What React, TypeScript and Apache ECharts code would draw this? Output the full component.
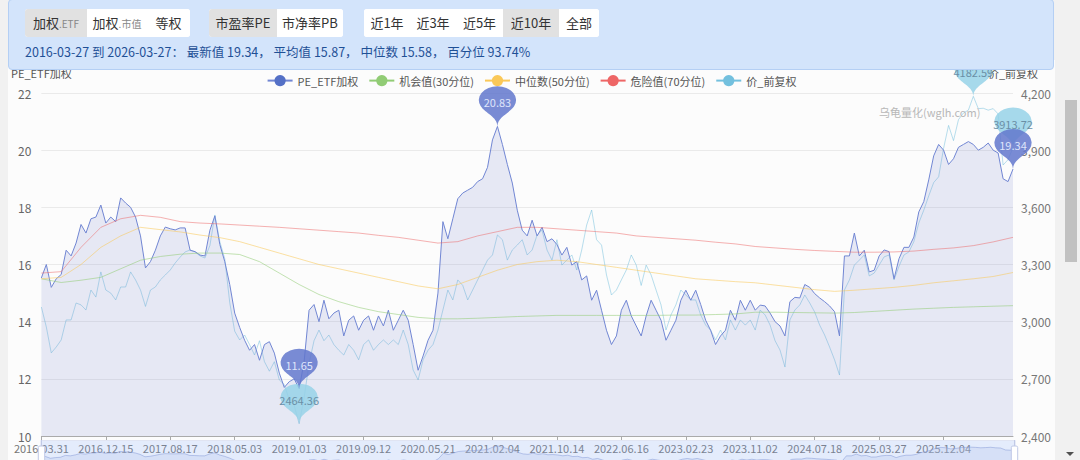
import React, { useEffect, useRef } from "react";
import * as echarts from "echarts";

// ---------- data ----------
const tickLabels = [
  "2016.03.31", "2016.12.15", "2017.08.17", "2018.05.03", "2019.01.03",
  "2019.09.12", "2020.05.21", "2021.02.04", "2021.10.14", "2022.06.16",
  "2023.02.23", "2023.11.02", "2024.07.18", "2025.03.27", "2025.12.04",
];
const LABEL_STEP = 13;

const peValues = [
  15.53, 16.0, 15.2, 15.5, 15.65, 16.5, 16.3, 16.75, 17.4, 17.1,
  17.6, 17.66, 18.08, 17.45, 17.66, 17.5, 18.33, 18.15, 18.0, 17.66,
  17.0, 15.88, 16.1, 16.5, 17.0, 17.31, 17.25, 17.21, 17.28, 17.28,
  16.5, 16.45, 16.33, 16.3, 17.2, 17.7, 16.7, 16.1, 15.3, 14.3,
  13.8, 13.35, 13.0, 13.2, 12.65, 13.2, 13.3, 12.9, 12.2, 11.7,
  11.9, 12.0, 11.65, 12.6, 14.4, 14.6, 14.0, 14.75, 14.1, 14.3,
  14.4, 13.5, 14.05, 14.2, 13.7, 14.05, 14.2, 13.7, 14.2, 13.85,
  14.4, 13.7, 14.05, 14.4, 14.05, 13.2, 12.3, 12.8, 13.35, 13.7,
  15.0, 17.5, 16.9, 17.6, 18.3, 18.5, 18.6, 18.7, 18.9, 19.0,
  19.4, 20.36, 20.83, 20.2, 19.5, 18.85, 17.9, 17.2, 17.0, 17.55,
  17.0, 17.3, 16.8, 16.9, 16.7, 16.33, 16.6, 15.98, 16.1, 15.46,
  15.6, 14.75, 15.1, 14.4, 13.7, 13.2, 13.5, 14.4, 14.75, 14.2,
  13.85, 13.5, 14.2, 14.75, 14.4, 14.05, 13.35, 13.7, 14.05, 14.75,
  15.1, 14.75, 15.1, 14.6, 14.05, 13.7, 13.2, 13.5, 13.7, 14.4,
  14.05, 14.75, 14.4, 14.75, 14.4, 14.58, 14.55, 14.3, 14.0, 13.85,
  13.5, 14.7, 14.85, 14.83, 15.3, 15.2, 14.98, 14.83, 14.7, 14.55,
  14.35, 13.5, 16.3, 16.3, 17.1, 16.3, 16.5, 15.74, 15.8, 16.3,
  16.51, 16.45, 15.5, 16.2, 16.6, 16.6, 16.96, 17.84, 18.2, 18.96,
  19.8, 20.2, 20.0, 19.5, 19.7, 20.1, 20.2, 20.3, 20.2, 20.0,
  20.1, 20.25, 20.0, 19.9, 19.0, 18.9, 19.34,
];

const priceValues = [
  3077, 2972, 2836, 2867, 2904, 3009, 3009, 3098, 3088, 3061,
  3166, 3129, 3261, 3166, 3150, 3114, 3182, 3182, 3261, 3219,
  3166, 3080, 3166, 3182, 3219, 3245, 3271, 3308, 3339, 3366,
  3376, 3366, 3345, 3334, 3400, 3560, 3420, 3330, 3100, 2950,
  2904, 2930, 2880, 2825, 2900, 2790, 2740, 2790, 2694, 2670,
  2590, 2560, 2464.36, 2600, 2780, 2900, 2956, 2900, 2930, 2880,
  2850, 2825, 2880, 2850, 2800, 2880, 2904, 2850, 2880, 2904,
  2880, 2904, 2880, 2956, 2880, 2746, 2694, 2800, 2850, 2880,
  2956, 3061, 3166, 3114, 3219, 3190, 3114, 3166, 3219, 3271,
  3323, 3350, 3455, 3430, 3323, 3376, 3402, 3430, 3350, 3376,
  3455, 3480, 3376, 3323, 3430, 3297, 3323, 3350, 3271, 3376,
  3507, 3586, 3430, 3402, 3245, 3140, 3166, 3219, 3271, 3350,
  3297, 3190, 3297, 3245, 3166, 3088, 2956, 3035, 3088, 3166,
  3140, 3114, 3114, 3035, 2982, 2956, 2904, 2956, 2904, 3009,
  2956, 3009, 2982, 3009, 2956, 3061, 3035, 2982, 2900, 2851,
  2762, 3009, 3061, 3088, 3140, 3098, 3050, 2982, 2930, 2867,
  2800, 2720, 3166, 3219, 3297, 3323, 3350, 3240, 3255, 3297,
  3340, 3350, 3219, 3290, 3350, 3366, 3420, 3518, 3585, 3660,
  3730, 3760, 3910, 4030, 3950, 4060, 4095, 4110, 4182.59, 4118,
  4120, 4110, 4118, 4090, 3822, 3850, 3913.72,
];

// rolling percentile lines, one value every PCT_STEP points
const PCT_STEP = 4;
const pct30 = [
  15.5, 15.37, 15.45, 15.55, 15.85, 16.15, 16.28, 16.36, 16.4, 16.4,
  16.35, 16.1, 15.7, 15.3, 14.95, 14.7, 14.5, 14.35, 14.25, 14.15,
  14.1, 14.1, 14.12, 14.15, 14.18, 14.2, 14.22, 14.22, 14.22, 14.22,
  14.22, 14.22, 14.23, 14.23, 14.25, 14.27, 14.33, 14.33, 14.32, 14.31,
  14.3, 14.32, 14.36, 14.4, 14.44, 14.47, 14.5, 14.52, 14.54, 14.56,
];
const pct50 = [
  15.5, 15.55, 16.0, 16.6, 17.0, 17.3, 17.22, 17.14, 17.03, 16.94,
  16.8, 16.6, 16.4, 16.2, 16.0, 15.85, 15.7, 15.55, 15.4, 15.25,
  15.15, 15.3, 15.55, 15.8, 16.0, 16.1, 16.15, 16.1, 16.0, 15.9,
  15.8, 15.7, 15.6, 15.5, 15.45, 15.4, 15.36, 15.28, 15.2, 15.12,
  15.06, 15.1, 15.15, 15.2, 15.27, 15.36, 15.43, 15.5, 15.58, 15.72,
];
const pct70 = [
  15.7, 15.75, 16.6, 17.3, 17.6, 17.72, 17.65, 17.5, 17.45, 17.42,
  17.38, 17.34, 17.3, 17.25, 17.2, 17.15, 17.1, 17.02, 16.95, 16.85,
  16.75, 16.8, 17.0, 17.15, 17.3, 17.3, 17.25, 17.2, 17.15, 17.1,
  17.0, 16.95, 16.9, 16.85, 16.78, 16.72, 16.63, 16.58, 16.53, 16.49,
  16.46, 16.43, 16.43, 16.44, 16.47, 16.53, 16.58, 16.66, 16.79, 16.95,
];

const seriesNames = ["PE_ETF加权", "机会值(30分位)", "中位数(50分位)", "危险值(70分位)", "价_前复权"];
const peLatest = 19.34;
const priceLatest = 3913.72;

const summaryText = "2016-03-27 到 2026-03-27： 最新值 19.34， 平均值 15.87， 中位数 15.58， 百分位 93.74%";

// ---------- helpers ----------
const categories = peValues.map((_, i) =>
  i % LABEL_STEP === 0 && tickLabels[i / LABEL_STEP] ? tickLabels[i / LABEL_STEP] : "d" + i
);
const spread = (arr: number[]) =>
  peValues.map((_, i) => (i % PCT_STEP === 0 ? arr[i / PCT_STEP] : null));
const showTick = (i: number) => i % LABEL_STEP === 0 && i / LABEL_STEP < tickLabels.length;

const FONT = "'Noto Sans CJK SC', 'Microsoft YaHei', sans-serif";
const PIN_SIZE = [62, 46];

function Btn({ label, sub, w, active }: { label: string; sub?: string; w: number; active?: boolean }) {
  return (
    <div
      style={{
        width: w,
        height: 28,
        lineHeight: "28px",
        textAlign: "center",
        background: active ? "#e1e1e1" : "#ffffff",
        color: "#333",
        fontSize: 13,
        whiteSpace: "nowrap",
      }}
    >
      {label}
      {sub ? <span style={{ fontSize: 10, color: "#888" }}>{sub}</span> : null}
    </div>
  );
}

function Group({ left, children }: { left: number; children: React.ReactNode }) {
  return (
    <div
      style={{
        position: "absolute",
        left,
        top: 9,
        display: "flex",
        borderRadius: 3,
        overflow: "hidden",
        background: "#fff",
      }}
    >
      {children}
    </div>
  );
}

export default function App() {
  const ref = useRef<HTMLDivElement>(null);

  useEffect(() => {
    if (!ref.current) return;
    const chart = echarts.init(ref.current, undefined, { renderer: "svg" });
    const lastCat = categories[categories.length - 1];
    const option: any = {
      animation: false,
      backgroundColor: "transparent",
      textStyle: { fontFamily: FONT },
      legend: {
        top: 10,
        left: "center",
        data: seriesNames,
        itemWidth: 25,
        itemHeight: 14,
        itemGap: 10,
        textStyle: { fontSize: 11, color: "#555" },
        lineStyle: { opacity: 1 },
      },
      grid: { left: 30, right: 42, top: 33, bottom: 44, containLabel: false },
      xAxis: {
        type: "category",
        data: categories,
        boundaryGap: false,
        axisLine: { lineStyle: { color: "#aaa" } },
        axisTick: { interval: showTick, lineStyle: { color: "#aaa" } },
        axisLabel: {
          interval: showTick,
          color: "#777",
          fontSize: 11,
          margin: 6,
          fontFamily: FONT,
        },
      },
      yAxis: [
        {
          type: "value",
          name: "PE_ETF加权",
          min: 10,
          max: 22,
          interval: 2,
          nameTextStyle: { color: "#555", fontSize: 11, fontFamily: FONT },
          axisLabel: { color: "#666", fontSize: 12, margin: 10 },
          splitLine: { lineStyle: { color: "#eaeaea" } },
        },
        {
          type: "value",
          name: "价_前复权",
          min: 2400,
          max: 4200,
          interval: 300,
          nameTextStyle: { color: "#555", fontSize: 11, fontFamily: FONT },
          axisLabel: { color: "#777", fontSize: 12, margin: 8 },
          splitLine: { show: false },
        },
      ],
      dataZoom: [
        {
          type: "slider",
          xAxisIndex: 0,
          start: 0,
          end: 100,
          left: 30,
          right: 42,
          top: 380,
          height: 32,
          showDetail: false,
          brushSelect: false,
        },
      ],
      graphic: [
        {
          type: "text",
          left: 871,
          top: 46,
          z: 100,
          style: { text: "乌龟量化(wglh.com)", fill: "#b8b8b8", fontSize: 11, fontFamily: FONT },
        },
      ],
      series: [
        {
          name: seriesNames[0],
          type: "line",
          data: peValues,
          symbol: "circle",
          showSymbol: false,
          z: 3,
          itemStyle: { color: "#5470c6" },
          lineStyle: { width: 1, color: "#7186d3" },
          areaStyle: { color: "rgba(110,125,200,0.22)" },
          markPoint: {
            symbol: "pin",
            symbolSize: PIN_SIZE,
            z: 8,
            itemStyle: { color: "rgba(98,119,205,0.85)" },
            label: { color: "#dfe5fb", fontSize: 11, fontFamily: FONT },
            data: [
              { type: "max", name: "max" },
              { type: "min", name: "min" },
              { name: "latest", coord: [lastCat, peLatest], value: peLatest },
            ],
          },
        },
        {
          name: seriesNames[1],
          type: "line",
          data: spread(pct30),
          connectNulls: true,
          symbol: "circle",
          showSymbol: false,
          itemStyle: { color: "#91cc75" },
          lineStyle: { width: 1, opacity: 0.55 },
        },
        {
          name: seriesNames[2],
          type: "line",
          data: spread(pct50),
          connectNulls: true,
          symbol: "circle",
          showSymbol: false,
          itemStyle: { color: "#fac858" },
          lineStyle: { width: 1, opacity: 0.55 },
        },
        {
          name: seriesNames[3],
          type: "line",
          data: spread(pct70),
          connectNulls: true,
          symbol: "circle",
          showSymbol: false,
          itemStyle: { color: "#ee6666" },
          lineStyle: { width: 1, opacity: 0.5 },
        },
        {
          name: seriesNames[4],
          type: "line",
          yAxisIndex: 1,
          data: priceValues,
          symbol: "circle",
          showSymbol: false,
          z: 2,
          itemStyle: { color: "#73c0de" },
          lineStyle: { width: 1, opacity: 0.5 },
          markPoint: {
            symbol: "pin",
            symbolSize: PIN_SIZE,
            z: 6,
            itemStyle: { color: "rgba(150,210,232,0.85)" },
            label: { color: "#6a8fa6", fontSize: 11, fontFamily: FONT },
            data: [
              { type: "max", name: "max" },
              { type: "min", name: "min" },
              { name: "latest", coord: [lastCat, priceLatest], value: priceLatest },
            ],
          },
        },
      ],
    };
    chart.setOption(option);
    return () => chart.dispose();
  }, []);

  return (
    <div
      style={{
        position: "fixed",
        left: 0,
        top: 0,
        width: 1080,
        height: 460,
        overflow: "hidden",
        background: "#f1f1f1",
        fontFamily: FONT,
      }}
    >
      <div
        style={{
          position: "absolute",
          left: 8,
          top: 60,
          width: 1047,
          height: 420,
          background: "#fcfcfc",
        }}
      >
        <div ref={ref} style={{ width: 1047, height: 420 }} />
      </div>
      <div
        style={{
          position: "absolute",
          left: 8,
          top: -1,
          width: 1046,
          height: 71,
          boxSizing: "border-box",
          background: "#d3e4fb",
          border: "1px solid #b4cff4",
          borderRadius: 4,
          zIndex: 2,
        }}
      >
        <Group left={16}>
          <Btn label="加权" sub=".ETF" w={62} active />
          <Btn label="加权" sub=".市值" w={60} />
          <Btn label="等权" w={43} />
        </Group>
        <Group left={200}>
          <Btn label="市盈率PE" w={68} active />
          <Btn label="市净率PB" w={66} />
        </Group>
        <Group left={355}>
          <Btn label="近1年" w={46} />
          <Btn label="近3年" w={46} />
          <Btn label="近5年" w={47} />
          <Btn label="近10年" w={56} active />
          <Btn label="全部" w={40} />
        </Group>
        <div
          style={{
            position: "absolute",
            left: 16,
            top: 42,
            fontSize: 12.5,
            color: "#1f5096",
            whiteSpace: "nowrap",
          }}
        >
          {summaryText}
        </div>
      </div>
      <div
        style={{
          position: "absolute",
          left: 1065,
          top: 100,
          width: 12,
          height: 162,
          background: "#c1c1c1",
        }}
      />
      <div
        style={{
          position: "absolute",
          left: 1066,
          top: 452,
          width: 0,
          height: 0,
          borderLeft: "4px solid transparent",
          borderRight: "4px solid transparent",
          borderTop: "4px solid #505050",
        }}
      />
    </div>
  );
}
